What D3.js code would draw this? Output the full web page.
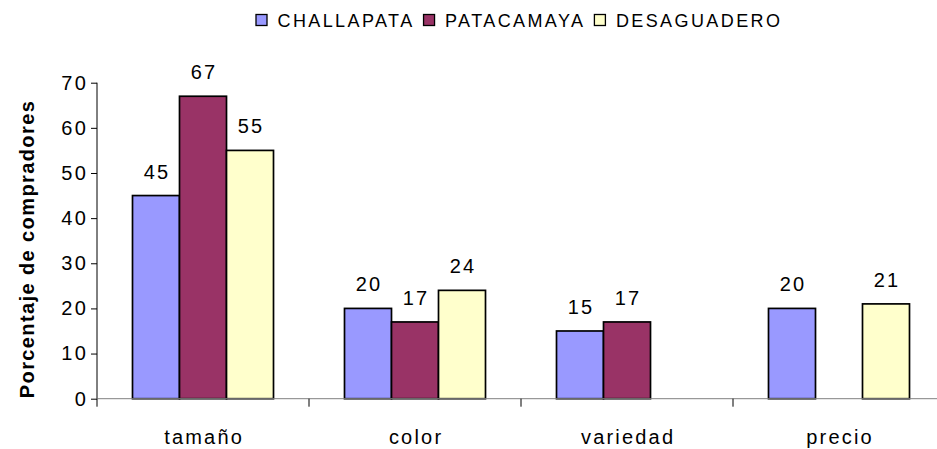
<!DOCTYPE html>
<html>
<head>
<meta charset="utf-8">
<script src="https://cdn.jsdelivr.net/npm/d3@7"></script>
<style>
  body { margin: 0; background: #fff; }
  svg { display: block; font-family: "Liberation Sans", Arial, sans-serif; }
</style>
</head>
<body>
<svg id="chart" width="937" height="449"></svg>
<script>
// data
const categories = ["tamaño", "color", "variedad", "precio"];
const seriesNames = ["CHALLAPATA", "PATACAMAYA", "DESAGUADERO"];
const challapata = [45, 20, 15, 20];
const patacamaya = [67, 17, 17, null];
const desaguadero = [55, 24, null, 21];
const yTicks = [0, 10, 20, 30, 40, 50, 60, 70];
const colors = ["#9999ff", "#993366", "#ffffcc"];

const seriesValues = [challapata, patacamaya, desaguadero];

const svg = d3.select("#chart");
const margin = {left: 97, top: 82.7, bottom: 50.3};
const plotH = 449 - margin.top - margin.bottom;
const band = 212;
const fontSize = "20px", spacing = "2.2px";

let x0 = d3.scaleBand()
    .domain(categories)
    .range([margin.left, margin.left + band * categories.length])
    .paddingInner(0).paddingOuter(0);
let x1 = d3.scaleBand()
    .domain(seriesNames)
    .range([35.5, band - 35.5])
    .padding(0);
let y = d3.scaleLinear().domain([0, 70]).range([margin.top + plotH, margin.top]);

// y axis
let yAxis = svg.append("g")
    .attr("transform", "translate(" + margin.left + ",0)")
    .call(d3.axisLeft(y).tickValues(yTicks).tickSize(6).tickPadding(3));
yAxis.selectAll("text")
    .style("font-size", fontSize)
    .style("letter-spacing", spacing)
    .attr("fill", "#000");
yAxis.selectAll("line").attr("stroke", "#000");
yAxis.select(".domain").attr("stroke", "#000").attr("d", "M0," + y(70) + "V" + y(0));

// bars
let groups = svg.append("g").selectAll("g")
    .data(categories)
    .enter().append("g")
    .attr("transform", d => "translate(" + x0(d) + ",0)");

groups.each(function (cat, ci) {
    let g = d3.select(this);
    seriesNames.forEach((s, si) => {
        let v = seriesValues[si][ci];
        if (v == null) return;
        g.append("rect")
            .attr("x", x1(s))
            .attr("y", y(v))
            .attr("width", x1.bandwidth())
            .attr("height", y(0) - y(v))
            .attr("fill", colors[si])
            .attr("stroke", "#000")
            .attr("stroke-width", 1.7);
        g.append("text")
            .attr("x", x1(s) + x1.bandwidth() / 2 + 1.1)
            .attr("y", y(v) - 17)
            .attr("text-anchor", "middle")
            .style("font-size", fontSize)
            .style("letter-spacing", spacing)
            .text(v);
    });
});

// x axis
let xAxis = svg.append("g")
    .attr("transform", "translate(0," + y(0) + ")")
    .call(d3.axisBottom(x0).tickSize(0).tickPadding(31));
xAxis.selectAll("text")
    .style("font-size", fontSize)
    .style("letter-spacing", spacing)
    .attr("dx", "1.1px")
    .attr("fill", "#000");
xAxis.select(".domain").attr("stroke", "#808080").attr("d", "M" + margin.left + ",0H" + (margin.left + band * 4));
xAxis.selectAll("line.sep")
    .data(d3.range(categories.length + 1))
    .enter().append("line")
    .attr("class", "sep")
    .attr("x1", i => margin.left + i * band)
    .attr("x2", i => margin.left + i * band)
    .attr("y1", 0).attr("y2", 8)
    .attr("stroke", "#000");

// y title
svg.append("text")
    .attr("transform", "translate(34,249) rotate(-90)")
    .attr("text-anchor", "middle")
    .style("font-size", "20px")
    .style("font-weight", "bold")
    .style("letter-spacing", "1.4px")
    .text("Porcentaje de compradores");

// legend
let legend = svg.append("g").attr("transform", "translate(256,0)");
let lx = 0;
seriesNames.forEach((s, i) => {
    let item = legend.append("g").attr("transform", "translate(" + lx + ",0)");
    item.append("rect")
        .attr("x", 0).attr("y", 14.5)
        .attr("width", 11).attr("height", 11)
        .attr("fill", colors[i])
        .attr("stroke", "#000").attr("stroke-width", 1.3);
    let t = item.append("text")
        .attr("x", 21.5).attr("y", 26.5)
        .style("font-size", "18px")
        .style("letter-spacing", "2.4px")
        .text(s);
    lx += 21.5 + t.node().getComputedTextLength() + 9;
});
</script>
</body>
</html>
